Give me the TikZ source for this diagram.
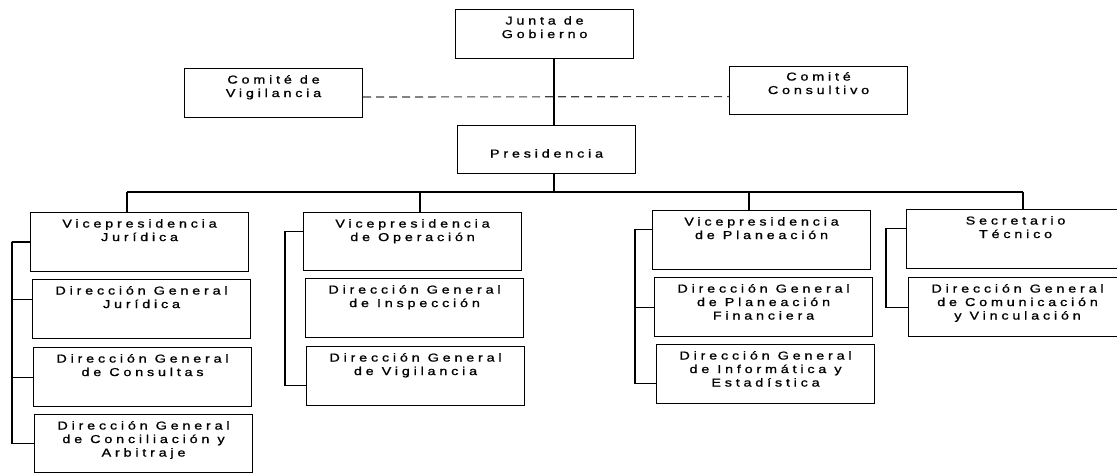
\documentclass[tikz,border=0pt]{standalone}
\usepackage{fontspec}
\setmainfont{Liberation Sans}[FakeStretch=1.25,LetterSpace=33,FakeBold=1.1]
\usetikzlibrary{calc}
\newcommand\ws{\hspace{8pt}}
\tikzset{
    unit/.style={draw,line width=1.1pt,anchor=north west,inner sep=0pt,
        text width=218pt,align=center,text height=15pt,text depth=44pt,
        font=\fontsize{11.5}{13.5}\selectfont},
    head/.style={unit,text width=178pt,text depth=34pt},
    link/.style={line width=1.1pt},
}
\begin{document}
\begin{tikzpicture}[x=1pt,y=-1pt]
    \useasboundingbox (0,0) rectangle (1117,473);
    \clip (0,0) rectangle (1117,473);

    \node[head] (junta) at (455,9) {Junta\ws de\\Gobierno};
    \node[head] (vigil) at (184,68) {Comité\ws de\\Vigilancia};
    \node[head,text height=14pt] (consult) at (729,66) {Comité\\Consultivo};
    \node[head,text height=32pt,text depth=16pt] (presid) at (457,125) {Presidencia};

    \node[unit] (vpj) at (30,212) {Vicepresidencia\\Jurídica};
    \node[unit] (dgj) at (32,279) {Dirección\ws General\\Jurídica};
    \node[unit] (dgc) at (33,347) {Dirección\ws General\\de\ws Consultas};
    \node[unit,text depth=43pt] (dgca) at (34,414) {Dirección\ws General\\de\ws Conciliación\ws y\\Arbitraje};

    \node[unit,text depth=43pt] (vpo) at (303,212) {Vicepresidencia\\de\ws Operación};
    \node[unit] (dgi) at (305,278) {Dirección\ws General\\de\ws Inspección};
    \node[unit] (dgv) at (306,346) {Dirección\ws General\\de\ws Vigilancia};

    \node[unit] (vpp) at (652,210) {Vicepresidencia\\de\ws Planeación};
    \node[unit] (dgpf) at (654,277) {Dirección\ws General\\de\ws Planeación\\Financiera};
    \node[unit] (dgie) at (656,344) {Dirección\ws General\\de\ws Informática\ws y\\Estadística};

    \node[unit] (sec) at (906,209) {Secretario\\Técnico};
    \node[unit] (dgcv) at (908,277) {Dirección\ws General\\de\ws Comunicación\\y\ws Vinculación};

    \coordinate (bus) at (554,192);
    \draw[link] (bus |- junta.south) -- (bus |- presid.north);
    \draw[link,black!75,dash pattern=on 8pt off 5pt] ([yshift=-4]vigil.east) -- ([yshift=-6]consult.west);

    \coordinate (dj) at (127,192);
    \coordinate (do) at (420,192);
    \coordinate (dp) at (749,192);
    \coordinate (ds) at (1023,192);
    \draw[link] (bus |- presid.south) -- (bus);
    \draw[link] (dj) -- (ds);
    \foreach \d/\b in {dj/vpj,do/vpo,dp/vpp,ds/sec}
        \draw[link] (\d) -- (\d |- \b.north);

    \coordinate (jbus) at (12,242);
    \coordinate (obus) at (285,231);
    \coordinate (pbus) at (635,229);
    \coordinate (sbus) at (886,228);
    \foreach \b/\f in {vpj/0.5,dgj/0.34,dgc/0.5,dgca/0.5}
        \draw[link] ($(\b.north west)!\f!(\b.south west)$) -| (jbus);
    \foreach \b/\f in {vpo/0.33,dgv/0.65}
        \draw[link] ($(\b.north west)!\f!(\b.south west)$) -| (obus);
    \foreach \b/\f in {vpp/0.32,dgpf/0.5,dgie/0.66}
        \draw[link] ($(\b.north west)!\f!(\b.south west)$) -| (pbus);
    \foreach \b/\f in {sec/0.32,dgcv/0.5}
        \draw[link] ($(\b.north west)!\f!(\b.south west)$) -| (sbus);
\end{tikzpicture}
\end{document}
